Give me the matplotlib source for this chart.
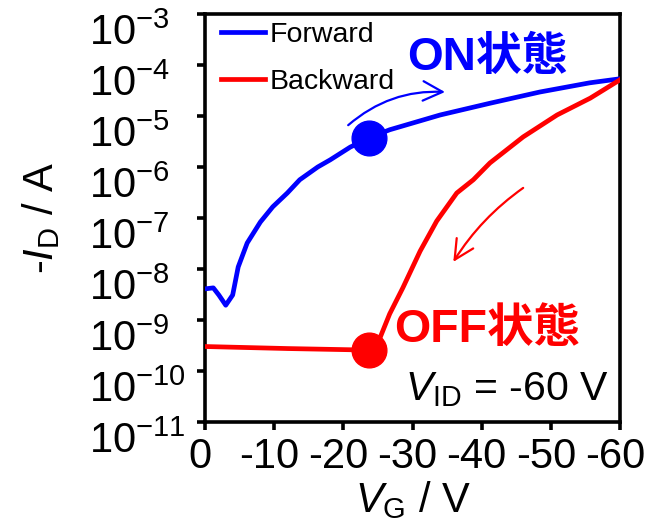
import numpy as np
import matplotlib
matplotlib.use("Agg")
import matplotlib.pyplot as plt
from matplotlib.ticker import FuncFormatter
from matplotlib.transforms import ScaledTranslation

plt.rcParams['font.family'] = ['Liberation Sans', 'Noto Sans CJK JP']
plt.rcParams['mathtext.fontset'] = 'custom'
plt.rcParams['mathtext.rm'] = 'Liberation Sans'
plt.rcParams['mathtext.it'] = 'Liberation Sans:italic'
plt.rcParams['mathtext.bf'] = 'Liberation Sans:bold'

# transfer curves, gate voltage in V, log10 of -I_D in A
fwd_vg = [0, -1.2, -2.0, -3.0, -4.0, -4.8, -6.1, -8.0, -9.8, -11.9, -13.7, -16.3,
          -18.1, -21.0, -23.7, -26.7, -34.0, -41.2, -48.4, -55.6, -60]
fwd_log = [-8.39, -8.37, -8.51, -8.71, -8.51, -7.96, -7.49, -7.08, -6.78, -6.51, -6.25, -6.0,
           -5.86, -5.61, -5.43, -5.27, -4.98, -4.75, -4.53, -4.35, -4.27]

bwd_vg = [-60, -55.7, -50.9, -46.0, -41.2, -38.8, -36.4, -33.5, -31.1, -28.6, -26.7, -25.3,
          -23.7, -12.0, 0]
bwd_log = [-4.29, -4.65, -4.98, -5.41, -5.92, -6.25, -6.51, -7.06, -7.65, -8.37, -8.88, -9.35,
           -9.59, -9.56, -9.52]

# marked operating points
on_vg, on_log = -23.7, -5.43
off_vg, off_log = -23.7, -9.59

xticks = [0, -10, -20, -30, -40, -50, -60]
yticks = [1e-11, 1e-10, 1e-9, 1e-8, 1e-7, 1e-6, 1e-5, 1e-4, 1e-3]

blue = '#0000ff'
red = '#ff0000'

fig = plt.figure(figsize=(6.48, 5.22), dpi=100)
ax = fig.add_axes([205/648, 1 - 422/522, 415/648, 408/522])

ax.plot(fwd_vg, 10**np.array(fwd_log), color=blue, lw=3.4, label='Forward', zorder=3)
ax.plot(bwd_vg, 10**np.array(bwd_log), color=red, lw=3.4, label='Backward', zorder=3)
ax.plot([on_vg], [10**on_log], 'o', color=blue, ms=25, zorder=4)
ax.plot([off_vg], [10**off_log], 'o', color=red, ms=25, zorder=4)

ax.set_yscale('log')
ax.set_xlim(0, -60)
ax.set_ylim(1e-11, 1e-3)
ax.set_xticks(xticks)
ax.set_yticks(yticks)
ax.minorticks_off()
ax.xaxis.set_major_formatter(FuncFormatter(lambda v, p: '%d' % v))

for s in ax.spines.values():
    s.set_linewidth(2.6)
ax.tick_params(direction='out', length=5.8, width=2.6, labelsize=30)
ax.tick_params(axis='x', pad=5)
ax.tick_params(axis='y', pad=78)
for lbl in ax.get_yticklabels():
    lbl.set_horizontalalignment('left')
    lbl.set_verticalalignment('top')
shift = ScaledTranslation(-5/100, 0, fig.dpi_scale_trans)
for lbl in ax.get_xticklabels():
    lbl.set_transform(lbl.get_transform() + shift)

ax.set_ylabel(r'-$I_{\mathrm{D}}$ / A', fontsize=30)
ax.yaxis.set_label_coords(-0.345, 0.5)
ax.set_xlabel(r'$V_{\mathrm{G}}$ / V', fontsize=30)
ax.xaxis.set_label_coords(0.5, -0.14)

ax.legend(loc='upper left', bbox_to_anchor=(0.038, 0.98), frameon=False, fontsize=20.5,
          handlelength=1.55, handletextpad=0.15, labelspacing=0.72,
          borderpad=0, borderaxespad=0)

ax.text(0.487, 0.862, 'ON状態', transform=ax.transAxes, fontsize=33, fontweight='bold',
        color=blue, ha='left', va='baseline')
ax.text(0.455, 0.196, 'OFF状態', transform=ax.transAxes, fontsize=33.5, fontweight='bold',
        color=red, ha='left', va='baseline')
ax.text(0.482, 0.054, r'$V_{\mathrm{ID}}$ = -60 V', transform=ax.transAxes, fontsize=29.5,
        ha='left', va='baseline')

# sweep direction arrows
ax.annotate('', xy=(-34.7, 10**-4.53), xytext=(-20.7, 10**-5.18),
            arrowprops=dict(arrowstyle='->,head_length=0.7,head_width=0.35', color=blue,
                            lw=1.6, mutation_scale=20, shrinkA=0, shrinkB=0,
                            connectionstyle='arc3,rad=-0.2'))
ax.annotate('', xy=(-35.9, 10**-7.86), xytext=(-46.0, 10**-6.41),
            arrowprops=dict(arrowstyle='->,head_length=0.7,head_width=0.35', color=red,
                            lw=1.6, mutation_scale=20, shrinkA=0, shrinkB=0,
                            connectionstyle='arc3,rad=0.1'))

fig.savefig('out.png', dpi=100)
